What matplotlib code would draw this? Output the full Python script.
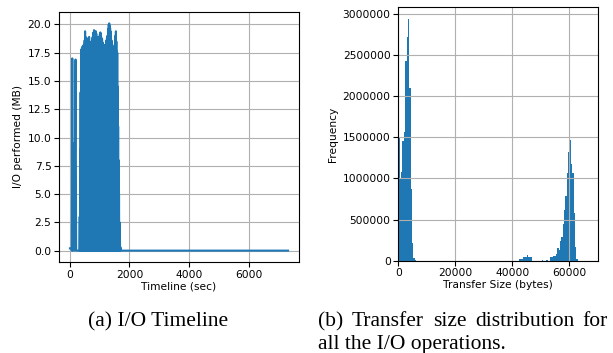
import numpy as np
import matplotlib
matplotlib.use("Agg")
import matplotlib.pyplot as plt

# ---------------- data: (a) I/O timeline ----------------
early_t = [0, 55, 65, 80, 95, 130, 150, 190, 210, 320]
early_mb = [0.2, 0.2, 0.0, 17.0, 0.0, 9.5, 0.0, 16.9, 0.0, 0.0]

burst_start = 330
burst_step = 15
burst_peaks = [3.0, 9.0, 14.0, 16.5, 17.8, 17.9, 18.0, 18.1, 18.1, 18.2,
               18.0, 18.6, 19.4, 18.9, 18.3, 18.2, 18.3, 18.2, 18.5, 18.8,
               18.6, 18.9, 18.5, 18.2, 18.3, 18.1, 18.0, 18.4, 18.7, 18.9,
               19.2, 19.3, 19.5, 19.4, 19.1, 19.3, 19.4, 19.2, 18.9, 18.5,
               18.7, 18.9, 18.6, 18.4, 18.8, 19.1, 19.3, 19.2, 18.9, 18.6,
               18.7, 18.4, 18.3, 18.2, 18.1, 18.2, 18.0, 17.9, 18.0, 18.4,
               18.6, 18.8, 19.0, 18.9, 19.6, 20.0, 20.1, 19.9, 19.7, 19.4,
               19.0, 18.6, 18.3, 18.2, 18.0, 17.8, 17.6, 17.5, 17.6, 18.2,
               19.0, 19.4, 18.5, 17.6, 17.5, 14.5, 11.0, 8.0, 5.0, 2.5,
               1.0, 0.3]

late_t = [1710, 7330]
late_mb = [0.0, 0.0]

# ---------------- data: (b) transfer size histogram ----------------
bin_width = 480
bin_index = [0, 1, 2, 3, 4, 5, 6, 7, 8, 9, 10, 11, 12,
             88, 89, 90, 91, 92, 93, 94, 95, 96, 97,
             105, 108,
             111, 112, 113, 114, 115, 116, 117, 118, 119, 120,
             121, 122, 123, 124, 125, 126, 127, 128, 129, 130]
frequency = [1500000, 1000000, 1080000, 1450000, 1560000, 2430000, 2710000,
             2930000, 2100000, 870000, 210000, 30000, 10000,
             15000, 17000, 20000, 40000, 40000, 45000, 70000, 50000, 50000, 45000,
             10000, 10000,
             50000, 50000, 60000, 60000, 80000, 150000, 130000, 240000, 290000, 450000,
             615000, 780000, 1060000, 1320000, 1460000, 1180000, 1060000, 575000,
             170000, 20000]
n_bins = 131

caption_a = "(a) I/O Timeline"
caption_b1 = "(b) Transfer size distribution for"
caption_b2 = "all the I/O operations."

# ---------------- build series ----------------
bt, bv = [], []
for i, p in enumerate(burst_peaks):
    t0 = burst_start + i * burst_step
    bt += [t0, t0 + burst_step / 2]
    bv += [p, 0.0]
timeline_t = np.array(early_t + bt + late_t)
timeline_mb = np.array(early_mb + bv + late_mb)

edges = np.arange(n_bins + 1) * bin_width
centers = (np.array(bin_index) + 0.5) * bin_width

# ---------------- figure ----------------
plt.rcParams['font.family'] = ['DejaVu Sans']
W, H = 613, 353
fig = plt.figure(figsize=(W / 100, H / 100), dpi=100)

fs = 7.7
ax1 = fig.add_axes([59 / W, (H - 262) / H, 240 / W, 250 / H])
ax1.plot(timeline_t, timeline_mb, color='#1f77b4', linewidth=1.5)
ax1.grid(True)
ax1.set_xticks([0, 2000, 4000, 6000])
ax1.set_yticks(np.arange(0, 20.01, 2.5))
ax1.set_yticklabels([f"{v:.1f}" for v in np.arange(0, 20.01, 2.5)])
ax1.set_xlabel("Timeline (sec)", fontsize=fs, labelpad=1)
ax1.set_ylabel("I/O performed (MB)", fontsize=fs, labelpad=3)
ax1.tick_params(labelsize=fs, pad=2)

ax2 = fig.add_axes([398.3 / W, (H - 260.7) / H, 199.7 / W, 253.4 / H])
ax2.hist(centers, bins=edges, weights=frequency, color='#1f77b4')
ax2.grid(True)
ax2.set_xlim(0, 70000)
ax2.set_xticks([0, 20000, 40000, 60000])
ax2.set_yticks(np.arange(0, 3000001, 500000))
ax2.ticklabel_format(style='plain', useOffset=False)
ax2.set_xlabel("Transfer Size (bytes)", fontsize=fs, labelpad=1)
ax2.set_ylabel("Frequency", fontsize=fs, labelpad=3)
ax2.tick_params(labelsize=fs, pad=2)

cap_font = ['Liberation Serif', 'DejaVu Serif']
cap_fs = 15.5
fig.text(158 / W, 1 - 322 / H, caption_a, family=cap_font,
         fontsize=cap_fs, ha='center', va='center')

# justified first line of caption (b)
renderer = fig.canvas.get_renderer()
words = caption_b1.split(" ")
x_left, x_right = 318, 608
texts = [fig.text(0, 1 - 322 / H, w, family=cap_font, fontsize=cap_fs,
                  ha='left', va='center') for w in words]
widths = [t.get_window_extent(renderer).width for t in texts]
gap = (x_right - x_left - sum(widths)) / (len(words) - 1)
x = x_left
for t, w in zip(texts, widths):
    t.set_x(x / W)
    x += w + gap

fig.text(x_left / W, 1 - 344 / H, caption_b2, family=cap_font,
         fontsize=cap_fs, ha='left', va='center')

fig.savefig("out.png", dpi=100)
